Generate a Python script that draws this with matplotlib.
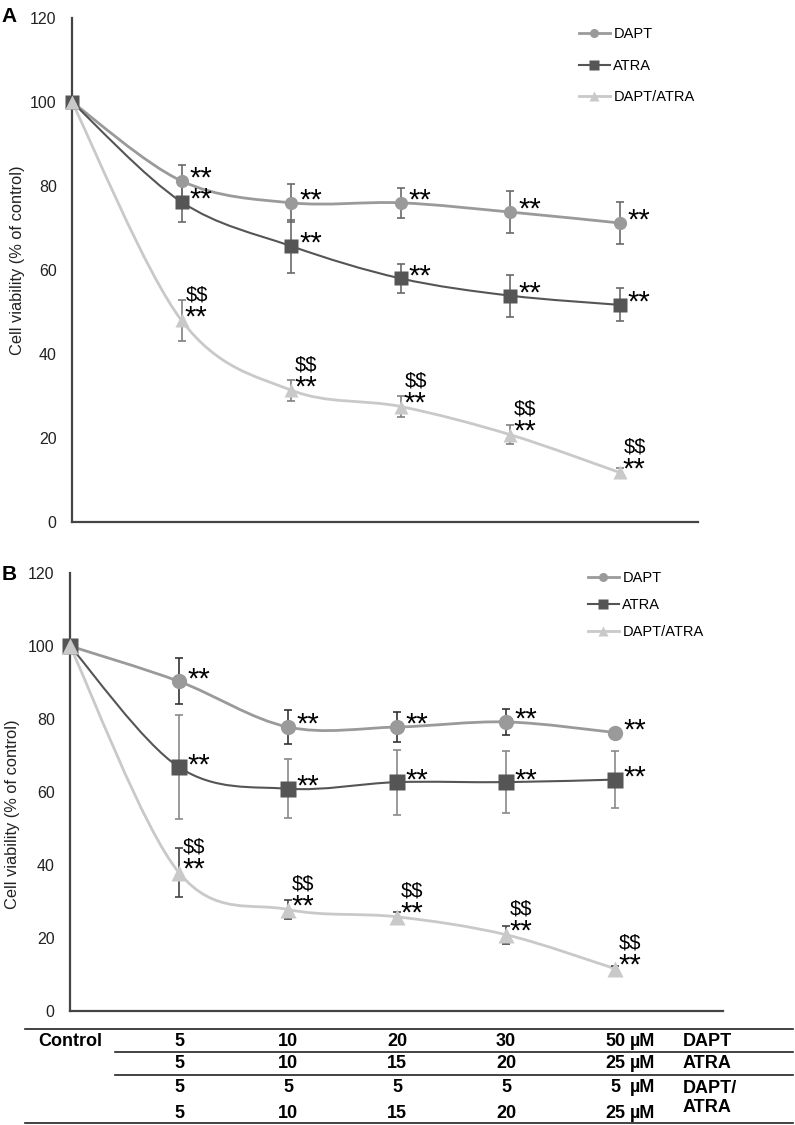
"""
Cell viability after DAPT, ATRA and DAPT/ATRA treatment (panels A and B),
with the dose table under panel B. Lines are Excel-style smoothed curves.
"""
import numpy as np
import matplotlib
matplotlib.use("Agg")
import matplotlib.pyplot as plt
from matplotlib.path import Path
from matplotlib.patches import PathPatch
from matplotlib.lines import Line2D
from matplotlib.transforms import blended_transform_factory

plt.rcParams["font.family"] = ["Liberation Sans", "DejaVu Sans"]
plt.rcParams["text.parse_math"] = False

# ---- data -------------------------------------------------------------------
doses = [0, 1, 2, 3, 4, 5]          # Control, then the five dose steps
series = ["DAPT", "ATRA", "DAPT/ATRA"]

a_dapt = [100, 81.2, 76.0, 76.0, 73.8, 71.2]
a_dapt_err = [0, 3.8, 4.5, 3.5, 5.0, 5.0]
a_atra = [100, 76.2, 65.7, 58.0, 53.9, 51.7]
a_atra_err = [0, 4.8, 6.3, 3.5, 5.0, 3.9]
a_combo = [100, 48.0, 31.4, 27.5, 20.8, 11.8]
a_combo_err = [0, 4.8, 2.5, 2.5, 2.2, 1.0]

b_dapt = [100, 90.3, 77.8, 77.8, 79.2, 76.3]
b_dapt_err = [0, 6.3, 4.7, 4.1, 3.5, 1.0]
b_atra = [100, 66.8, 60.9, 62.7, 62.7, 63.4]
b_atra_err = [0, 14.2, 8.1, 8.9, 8.5, 7.8]
b_combo = [100, 37.9, 27.8, 25.8, 20.9, 11.6]
b_combo_err = [0, 6.7, 2.5, 1.4, 2.5, 0.8]

# significance marks per point (index 1..5)
stars = ["**"] * 5
dollars = ["$$"] * 5

# dose table under panel B
table_first = "Control"
table_rows = [["5", "10", "20", "30", "50"],
              ["5", "10", "15", "20", "25"],
              ["5", "5", "5", "5", "5"],
              ["5", "10", "15", "20", "25"]]
table_names = ["DAPT", "ATRA", "DAPT/\nATRA"]
unit = "µM"

yticks = [0, 20, 40, 60, 80, 100, 120]
ylabel = "Cell viability (% of control)"

# ---- style ------------------------------------------------------------------
COLORS = {"DAPT": "#9a9a9a", "ATRA": "#555555", "DAPT/ATRA": "#c9c9c9"}
MARKERS = {"DAPT": "o", "ATRA": "s", "DAPT/ATRA": "^"}
LW = {"DAPT": 2.0, "ATRA": 1.5, "DAPT/ATRA": 2.0}

W, H = 795, 1125
fig = plt.figure(figsize=(W / 100, H / 100), dpi=100)


def fx(px):
    return px / W


def fy(py):
    return 1 - py / H


def smooth(ax, x, y, color, lw):
    """Excel-like smoothed line: cubic Bezier through every point."""
    n = len(x)
    verts = [(x[0], y[0])]
    codes = [Path.MOVETO]
    for i in range(n - 1):
        p0 = (x[max(i - 1, 0)], y[max(i - 1, 0)])
        p3 = (x[min(i + 2, n - 1)], y[min(i + 2, n - 1)])
        c1 = (x[i] + (x[i + 1] - p0[0]) / 6, y[i] + (y[i + 1] - p0[1]) / 6)
        c2 = (x[i + 1] - (p3[0] - x[i]) / 6, y[i + 1] - (p3[1] - y[i]) / 6)
        verts += [c1, c2, (x[i + 1], y[i + 1])]
        codes += [Path.CURVE4] * 3
    ax.add_patch(PathPatch(Path(verts, codes), fill=False, edgecolor=color,
                           lw=lw, zorder=2, capstyle="round"))


def panel(ax, data, errc, msize, xmax, letter, letter_xy, ylab_xy, legend_anchor, lspace):
    for s, (vals, errs) in zip(series, data):
        smooth(ax, doses, vals, COLORS[s], LW[s])
        ax.errorbar(doses[1:], vals[1:], yerr=errs[1:], fmt="none", ecolor=errc[s],
                    elinewidth=1.2, capsize=3.2, capthick=1.2, zorder=3)
        ax.plot(doses, vals, ls="none", marker=MARKERS[s], ms=msize + (1 if s == "DAPT/ATRA" else 0),
                color=COLORS[s], mec="none", zorder=4, clip_on=False)
        for i in range(1, len(vals)):
            if s == "DAPT/ATRA":
                ax.annotate(stars[i - 1], (doses[i], vals[i]), xytext=(3, -5),
                            textcoords="offset pixels", fontsize=21, va="baseline", ha="left", zorder=5)
                ax.annotate(dollars[i - 1], (doses[i], vals[i]), xytext=(4, 20),
                            textcoords="offset pixels", fontsize=14.5, va="baseline", ha="left", zorder=5)
            else:
                ax.annotate(stars[i - 1], (doses[i], vals[i]), xytext=(8, -6),
                            textcoords="offset pixels", fontsize=21, va="baseline", ha="left", zorder=5)

    ax.set_xlim(0, xmax)
    ax.set_ylim(0, 120)
    ax.set_yticks(yticks)
    ax.set_xticks([])
    ax.tick_params(axis="y", length=0, pad=11, labelsize=11.5, colors="#222222")
    for side in ("top", "right"):
        ax.spines[side].set_visible(False)
    for side in ("left", "bottom"):
        ax.spines[side].set_color("#444444")
        ax.spines[side].set_linewidth(1.6)
    fig.text(fx(ylab_xy[0]), fy(ylab_xy[1]), ylabel, fontsize=11.8, color="#222222",
             rotation=90, ha="center", va="center")
    fig.text(fx(letter_xy[0]), fy(letter_xy[1]), letter, fontsize=15, fontweight="bold",
             ha="left", va="center")

    handles = [Line2D([0], [0], color=COLORS[s], lw=LW[s], marker=MARKERS[s], ms=6.5,
                      mec="none") for s in series]
    ax.legend(handles, series, loc="upper left", bbox_to_anchor=legend_anchor,
              bbox_transform=fig.transFigure, frameon=False, fontsize=10.5,
              handlelength=2.1, handletextpad=0.25, labelspacing=lspace, borderpad=0,
              borderaxespad=0)


axA = fig.add_axes([fx(72), fy(522), fx(698 - 72), (522 - 18) / H])
axB = fig.add_axes([fx(70), fy(1011), fx(723 - 70), (1011 - 573) / H])

panel(axA, [(a_dapt, a_dapt_err), (a_atra, a_atra_err), (a_combo, a_combo_err)],
      {"DAPT": "#6a6a6a", "ATRA": "#6a6a6a", "DAPT/ATRA": "#808080"},
      9.5, (698 - 72) / 109.5, "A", (1, 16), (17.5, 260), (fx(579), fy(27.5)), 1.19)
panel(axB, [(b_dapt, b_dapt_err), (b_atra, b_atra_err), (b_combo, b_combo_err)],
      {"DAPT": "#333333", "ATRA": "#8a8a8a", "DAPT/ATRA": "#444444"},
      11, (723 - 70) / 109, "B", (2, 574), (12.5, 814), (fx(588), fy(571)), 0.88)

# ---- dose table -------------------------------------------------------------
tr = blended_transform_factory(axB.transData, fig.transFigure)
row_y = [1041, 1064, 1088, 1113]
TFS = 13
fig.text(fx(70), fy(row_y[0]), table_first, fontsize=TFS, fontweight="bold",
         ha="center", va="center")
for r, vals in enumerate(table_rows):
    for i, v in enumerate(vals):
        fig.text(doses[i + 1], fy(row_y[r]), v, transform=tr, fontsize=TFS,
                 fontweight="bold", ha="center", va="center")
    fig.text(5.14, fy(row_y[r]), unit, transform=tr, fontsize=TFS,
             fontweight="bold", ha="left", va="center")
name_y = [1041, 1064, 1098]
for name, y in zip(table_names, name_y):
    fig.text(fx(683), fy(y), name, fontsize=TFS, fontweight="bold", ha="left",
             va="center", linespacing=1.12)

for y, x0 in [(1029, 25), (1052, 115), (1075, 115), (1123, 25)]:
    fig.add_artist(Line2D([fx(x0), fx(793)], [fy(y), fy(y)], color="#222222", lw=1.2))

fig.savefig("out.png", dpi=100)
